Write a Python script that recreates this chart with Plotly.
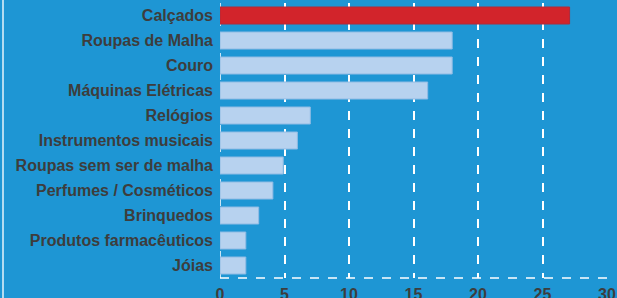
import plotly.graph_objects as go

categories = ["Calçados", "Roupas de Malha", "Couro", "Máquinas Elétricas", "Relógios",
              "Instrumentos musicais", "Roupas sem ser de malha", "Perfumes / Cosméticos",
              "Brinquedos", "Produtos farmacêuticos", "Jóias"]
values = [27.1, 18, 18, 16.1, 7, 6, 4.9, 4.1, 3, 2, 2]
tick_vals = [0, 5, 10, 15, 20, 25, 30]

bar_colors = ["#d2242b"] + ["#b7d2ef"] * (len(categories) - 1)
line_colors = ["#b02a3a"] + ["#8fbbe4"] * (len(categories) - 1)

fig = go.Figure(go.Bar(
    x=values, y=categories, orientation="h",
    marker=dict(color=bar_colors, line=dict(color=line_colors, width=1)),
    width=0.68, hoverinfo="skip",
))

W, H = 617, 298
ml, mr, mt, mb = 220, 10, 3, 20
fig.update_layout(
    width=W, height=H,
    margin=dict(l=ml, r=mr, t=mt, b=mb, autoexpand=False),
    paper_bgcolor="#1e96d4", plot_bgcolor="#1e96d4",
    showlegend=False,
    bargap=0.32,
    font=dict(family="Liberation Sans, Arial, sans-serif", size=16, color="#3d3d3d"),
)
fig.update_yaxes(
    autorange="reversed", showgrid=False, zeroline=False, showline=False,
    automargin=False,
    tickfont=dict(family="Liberation Sans, Arial, sans-serif", size=16, color="#3d3d3d", weight="bold"),
    ticklabelstandoff=6, ticks="",
)
fig.update_xaxes(
    range=[0, 30], tickvals=tick_vals, showgrid=True, gridcolor="white", griddash="dash",
    gridwidth=1.5, zeroline=False, showline=False, ticks="", automargin=False,
    tickfont=dict(family="Liberation Sans, Arial, sans-serif", size=16, color="#3d3d3d", weight="bold"),
    ticklabelstandoff=5,
)
# dashed bottom border and vertical line at 0
fig.add_shape(type="line", xref="paper", yref="paper", x0=0, x1=1, y0=0, y1=0,
              line=dict(color="white", width=1.5, dash="dash"))
fig.add_shape(type="line", xref="x", yref="paper", x0=0, x1=0, y0=0, y1=1,
              line=dict(color="white", width=1.5, dash="dash"), layer="below")
# left edge white line
pw = W - ml - mr
fx = (3 - ml) / pw
fig.add_shape(type="line", xref="paper", yref="paper", x0=fx, x1=fx, y0=-1, y1=2,
              line=dict(color="#e6f3fb", width=1.5))
fig.write_html("out.html", config={"displayModeBar": False},
               post_script="document.body.style.margin='0';document.body.style.overflow='hidden';document.body.style.background='#1e96d4';")
